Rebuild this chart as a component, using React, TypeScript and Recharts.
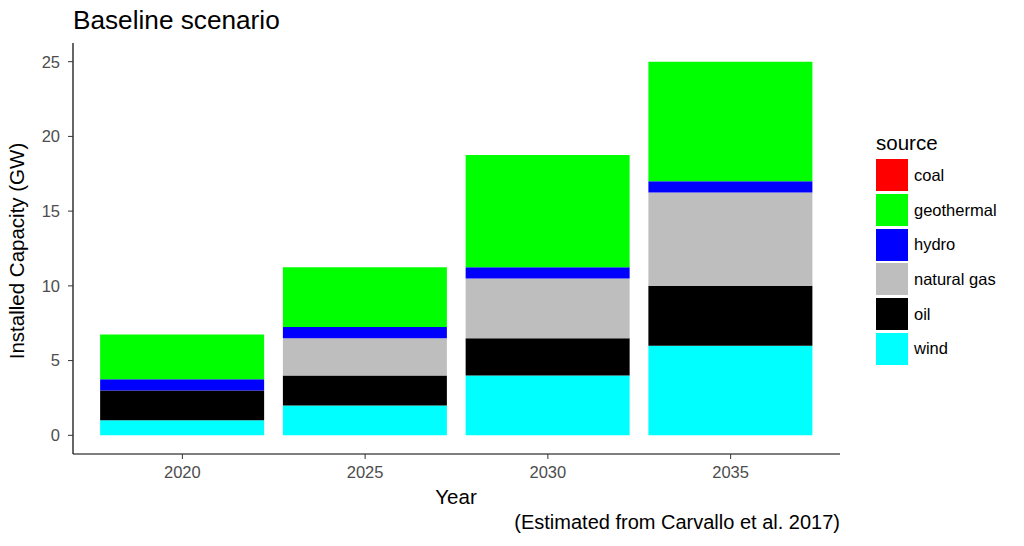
import { Bar, BarChart, XAxis, YAxis } from "recharts";

const years = ["2020", "2025", "2030", "2035"];
const coal = [0, 0, 0, 0];
const geothermal = [3, 4, 7.5, 8];
const hydro = [0.75, 0.75, 0.75, 0.75];
const naturalGas = [0, 2.5, 4, 6.25];
const oil = [2, 2, 2.5, 4];
const wind = [1, 2, 4, 6];
const yTicks = [0, 5, 10, 15, 20, 25];

// legend order (alphabetical, as ggplot shows it)
const sources = [
    { key: "coal", label: "coal", color: "#ff0000", values: coal },
    { key: "geothermal", label: "geothermal", color: "#00ff00", values: geothermal },
    { key: "hydro", label: "hydro", color: "#0000ff", values: hydro },
    { key: "gas", label: "natural gas", color: "#bebebe", values: naturalGas },
    { key: "oil", label: "oil", color: "#000000", values: oil },
    { key: "wind", label: "wind", color: "#00ffff", values: wind },
];

const data = years.map((year, i) => {
    const row: Record<string, string | number> = { year };
    sources.forEach((s) => {
        row[s.key] = s.values[i];
    });
    return row;
});

const FONT = "'Liberation Sans', Arial, sans-serif";

function SourceLegend() {
    return (
        <div
            style={{
                position: "absolute",
                left: 876,
                top: 132,
                fontFamily: FONT,
                color: "#000",
            }}
        >
            <div style={{ fontSize: 20.5, height: 26, lineHeight: "22px" }}>source</div>
            {sources.map((s) => (
                <div key={s.key} style={{ display: "flex", alignItems: "center", height: 34.7 }}>
                    <div
                        style={{
                            width: 32,
                            height: 32,
                            background: s.color,
                            marginRight: 6,
                        }}
                    />
                    <span style={{ fontSize: 16.5 }}>{s.label}</span>
                </div>
            ))}
        </div>
    );
}

export default function App() {
    // bottom of stack first
    const stackOrder = ["wind", "oil", "gas", "hydro", "geothermal", "coal"];
    return (
        <div
            style={{
                position: "absolute",
                left: 0,
                top: 0,
                width: 1024,
                height: 546,
                background: "#fff",
                fontFamily: FONT,
            }}
        >
            <BarChart
                width={1024}
                height={546}
                data={data}
                margin={{ top: 43, right: 184, left: 23, bottom: 62 }}
                barCategoryGap="5%"
            >
                <XAxis
                    dataKey="year"
                    height={30}
                    padding={{ left: 18, right: 18 }}
                    axisLine={{ stroke: "#000", strokeWidth: 1.2 }}
                    tickLine={{ stroke: "#333" }}
                    tickSize={5}
                    tickMargin={7}
                    tick={{ fill: "#4d4d4d", fontSize: 16.5, fontFamily: FONT }}
                />
                <YAxis
                    width={50}
                    type="number"
                    domain={[-1.25, 26.25]}
                    allowDataOverflow
                    ticks={yTicks}
                    axisLine={{ stroke: "#000", strokeWidth: 1.2 }}
                    tickLine={{ stroke: "#333" }}
                    tickSize={5}
                    tickMargin={8}
                    tick={{ fill: "#4d4d4d", fontSize: 16.5, fontFamily: FONT }}
                />
                {stackOrder.map((k) => {
                    const s = sources.find((x) => x.key === k)!;
                    return (
                        <Bar
                            key={k}
                            dataKey={k}
                            name={s.label}
                            stackId="a"
                            fill={s.color}
                            isAnimationActive={false}
                        />
                    );
                })}
            </BarChart>
            <SourceLegend />
            <div
                style={{
                    position: "absolute",
                    left: 73,
                    top: 5,
                    fontSize: 26.2,
                    color: "#000",
                    whiteSpace: "nowrap",
                }}
            >
                Baseline scenario
            </div>
            <div
                style={{
                    position: "absolute",
                    left: 17,
                    top: 251,
                    transform: "translate(-50%, -50%) rotate(-90deg)",
                    fontSize: 20.5,
                    whiteSpace: "nowrap",
                    color: "#000",
                }}
            >
                Installed Capacity (GW)
            </div>
            <div
                style={{
                    position: "absolute",
                    left: 456,
                    top: 497,
                    transform: "translate(-50%, -50%)",
                    fontSize: 20.5,
                    color: "#000",
                }}
            >
                Year
            </div>
            <div
                style={{
                    position: "absolute",
                    right: 1024 - 840,
                    top: 511,
                    fontSize: 20,
                    color: "#000",
                    whiteSpace: "nowrap",
                }}
            >
                (Estimated from Carvallo et al. 2017)
            </div>
        </div>
    );
}
